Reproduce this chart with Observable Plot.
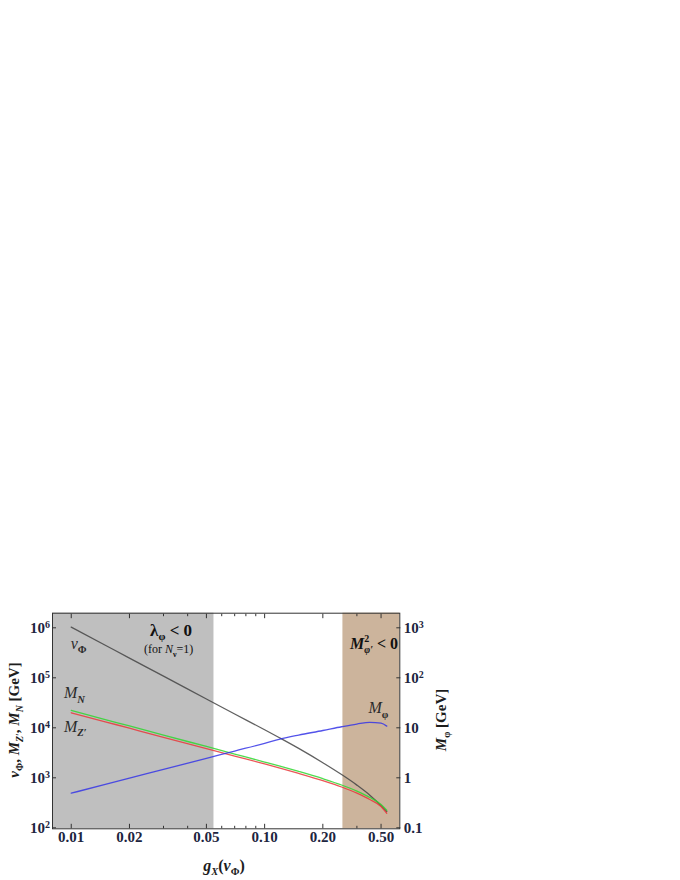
<!DOCTYPE html>
<html><head><meta charset="utf-8">
<script src="https://cdn.jsdelivr.net/npm/d3@7"></script>
<script src="https://cdn.jsdelivr.net/npm/@observablehq/plot@0.6"></script>
<style>
body{margin:0;background:#fff;}
#chart svg{display:block;}
</style></head><body><div id="chart"></div>
<script>
// ---- data ----
const g     = [0.01, 0.015, 0.02, 0.03, 0.05, 0.07, 0.1, 0.12, 0.15, 0.2, 0.25, 0.3, 0.35, 0.4, 0.428];
const vPhi  = [1030000, 448000, 248000, 108000, 37700, 18900, 9150, 6250, 3870, 2000, 1160, 714, 450, 278, 212];
const MN    = [22200, 14600, 10900, 7160, 4230, 2990, 2070, 1710, 1340, 960, 718, 541, 404, 293, 225];
const MZp   = [20000, 13200, 9820, 6470, 3840, 2720, 1890, 1556, 1220, 875, 655, 493, 368, 267, 195];
const Mphi  = [0.492, 0.738, 0.983, 1.47, 2.45, 3.43, 4.90, 5.95, 7.16, 8.83, 10.5, 11.9, 12.9, 12.4, 10.8]; // GeV (right axis)

const regionStart = [0.008, 0.254];
const regionEnd   = [0.0547, 0.5];
const regionFill  = ["#808080", "#9a6a3a"];

const xDomain = [0.008, 0.5];
const yDomain = [95.5, 1.96e6];
const xMajor = [0.01, 0.02, 0.05, 0.1, 0.2, 0.4];
const xMajorLabels = ["0.01", "0.02", "0.05", "0.10", "0.20", "0.50"];
const xMinor = [0.03, 0.04, 0.06, 0.07, 0.08, 0.09, 0.3];
const yTicks = [1e2, 1e3, 1e4, 1e5, 1e6];
const yLeftLabels = ["10^2", "10^3", "10^4", "10^5", "10^6"];
const yRightLabels = ["0.1", "1", "10", "10^2", "10^3"];
const rightScale = 1000; // right axis value = left axis value / 1000

const series = [
  {name: "vPhi", values: vPhi, color: "#444444"},
  {name: "MN", values: MN, color: "#2fd62f"},
  {name: "MZp", values: MZp, color: "#e8383a"},
  {name: "Mphi", values: Mphi.map(v => v * rightScale), color: "#3535e6"}
];
const rows = series.flatMap(s => g.map((x, i) => ({x, y: s.values[i], s: s.name, c: s.color})));
const regions = regionStart.map((s, i) => ({x1: s, x2: regionEnd[i], fill: regionFill[i]}));

const plot = Plot.plot({
  width: 680, height: 880,
  marginTop: 612.7, marginBottom: 51.7, marginLeft: 52, marginRight: 280.7,
  style: {fontFamily: "'Liberation Serif','Times New Roman',serif", fontSize: "15px", fontWeight: "bold", color: "#1d2540", background: "white"},
  x: {type: "log", domain: xDomain},
  y: {type: "log", domain: yDomain},
  marks: [
    Plot.rect(regions, {x1: "x1", x2: "x2", y1: () => yDomain[0], y2: () => yDomain[1], fill: "fill", fillOpacity: 0.5}),
    ...series.map(s => Plot.line(rows.filter(r => r.s === s.name), {x: "x", y: "y", stroke: s.color, strokeWidth: 1.3, strokeOpacity: 0.85, curve: "monotone-x"})),
    Plot.frame({stroke: "#333", strokeWidth: 1}),
    Plot.axisY({anchor: "left", ticks: yTicks, tickSize: -4, tickPadding: 6.5, tickFormat: d => yLeftLabels[yTicks.indexOf(d)], label: null, stroke: "#333"}),
    Plot.axisY({anchor: "right", ticks: yTicks, tickSize: -4, tickPadding: 8, tickFormat: d => yRightLabels[yTicks.indexOf(d)], label: null, stroke: "#333"}),
    Plot.axisX({anchor: "bottom", ticks: xMajor, tickSize: -4.5, tickPadding: 7, tickFormat: d => xMajorLabels[xMajor.indexOf(d)], label: null, stroke: "#333"}),
    Plot.axisX({anchor: "top", ticks: xMajor, tickSize: -4.5, tickFormat: () => "", label: null, stroke: "#333"}),
    Plot.axisX({anchor: "bottom", ticks: xMinor, tickSize: -2.5, tickFormat: () => "", label: null, stroke: "#333"}),
    Plot.axisX({anchor: "top", ticks: xMinor, tickSize: -2.5, tickFormat: () => "", label: null, stroke: "#333"})
  ]
});
document.getElementById("chart").appendChild(plot);

const svg = d3.select(plot);
// superscripts in tick labels
svg.selectAll("text").each(function() {
  const t = this.textContent; const m = /^10\^(\d)$/.exec(t);
  if (m) {
    const el = d3.select(this); el.text("");
    el.append("tspan").text("10");
    el.append("tspan").attr("dy", "-0.42em").attr("font-size", "10px").text(m[1]);
  }
});

function rich(parent, parts, attrs, base) {
  const t = parent.append("text");
  Object.entries(attrs).forEach(([k, v]) => t.attr(k, v));
  t.attr("font-size", base + "px");
  let off = 0;
  parts.forEach(p => {
    const [s, kind, extra] = p;
    const ts = t.append("tspan").text(s);
    let target = 0, fs = base;
    if (kind.includes("sub")) { target = base * 0.28; fs = base * 0.66; }
    if (kind.includes("sup")) { target = -base * 0.4; fs = base * 0.62; }
    if (kind.includes("i")) ts.attr("font-style", "italic");
    ts.attr("font-weight", kind.includes("b") ? "bold" : "normal");
    ts.attr("font-size", fs + "px");
    if (target - off !== 0) ts.attr("dy", target - off);
    if (extra) ts.attr("dx", extra);
    off = target;
  });
  return t;
}

const xs = plot.scale("x"), ys = plot.scale("y");
const ann = svg.append("g").attr("fill", "#2b2b2b").attr("font-family", "'Liberation Serif','Times New Roman',serif");
const annotations = [
  {g: 0.01,   v: 368000, parts: [["ν", "i"], ["Φ", "sub"]], size: 16},
  {g: 0.00923, v: 38000, parts: [["M", "i"], ["N", "isub"]], size: 16},
  {g: 0.00923, v: 8170,  parts: [["M", "i"], ["Z", "isub"], ["′", "sub"]], size: 16},
  {g: 0.0257, v: 680000, parts: [["λ", "b"], ["φ", "bsub"], [" < 0", "b"]], size: 17, fill: "#111"},
  {g: 0.0239, v: 300000, parts: [["(for ", ""], ["N", "i"], ["ν", "sub"], ["=1)", ""]], size: 12, fill: "#111"},
  {g: 0.3465, v: 19000,  parts: [["M", "i"], ["φ", "sub"]], size: 16}
];
annotations.forEach(a => {
  const t = rich(ann, a.parts, {x: xs.apply(a.g), y: ys.apply(a.v), "text-anchor": "start"}, a.size);
  if (a.fill) t.attr("fill", a.fill);
});
// M^2_phi' < 0 (stacked super/subscript)
{
  const t = ann.append("text").attr("x", xs.apply(0.493)).attr("y", ys.apply(368000)).attr("text-anchor", "end").attr("fill", "#111").attr("font-size", "16px");
  t.append("tspan").attr("font-style", "italic").text("M");
  t.append("tspan").attr("font-size", "10px").attr("dy", -7).text("2");
  t.append("tspan").attr("font-size", "10px").attr("font-style", "italic").attr("dx", -5).attr("dy", 11).text("φ′");
  t.append("tspan").attr("dy", -4).text(" < 0");
}

// axis titles
const lab = svg.append("g").attr("fill", "#1d1d1d").attr("font-family", "'Liberation Serif','Times New Roman',serif").attr("font-weight", "bold");
rich(lab, [["ν", "bi"], ["Φ", "bsub"], [", ", "b"], ["M", "bi"], ["Z", "bisub"], ["′", "bsub"], [", ", "b"], ["M", "bi"], ["N", "bisub"], [" [GeV]", "b"]],
  {transform: "translate(19,720) rotate(-90)", "text-anchor": "middle"}, 15);
rich(lab, [["M", "bi"], ["φ", "bsub"], [" [GeV]", "b"]],
  {transform: "translate(446,720) rotate(-90)", "text-anchor": "middle"}, 15);
rich(lab, [["g", "bi"], ["X", "bisub"], ["(", "b"], ["v", "bi"], ["Φ", "bsub"], [")", "b"]],
  {x: 224, y: 871, "text-anchor": "middle"}, 16);
</script>
</body></html>
